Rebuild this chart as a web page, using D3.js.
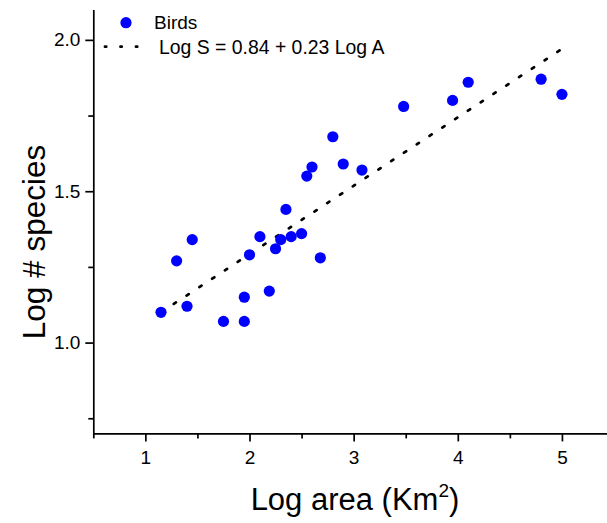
<!DOCTYPE html>
<html>
<head>
<meta charset="utf-8">
<script src="https://cdn.jsdelivr.net/npm/d3@7"></script>
<style>
  html, body { margin: 0; padding: 0; background: #fff; }
  svg { display: block; font-family: "Liberation Sans", Arial, sans-serif; }
</style>
</head>
<body>
<svg id="chart" width="607" height="523"></svg>
<script>
// ---- data ----
const logArea = [1.15, 1.30, 1.45, 1.40, 1.75, 1.95, 1.95, 2.19, 2.00, 2.10, 2.30, 2.25, 2.40,
                 2.50, 2.68, 2.35, 2.55, 2.60, 2.80, 2.90, 3.08, 3.48, 3.95, 4.10, 4.80, 5.00];
const logSpecies = [1.10, 1.27, 1.34, 1.12, 1.07, 1.07, 1.15, 1.17, 1.29, 1.35, 1.34, 1.31, 1.35,
                    1.36, 1.28, 1.44, 1.55, 1.58, 1.68, 1.59, 1.57, 1.78, 1.80, 1.86, 1.87, 1.82];
const fitX = [1.15, 5.0];
const fitY = [1.10, 1.97];
const xTicks = [1, 2, 3, 4, 5];
const xMinorTicks = [0.5, 1.5, 2.5, 3.5, 4.5];
const yTicks = [1.0, 1.5, 2.0];
const yMinorTicks = [0.75, 1.25, 1.75];
const seriesName = "Birds";
const fitLabel = "Log S = 0.84 + 0.23 Log A";

// ---- layout ----
const svg = d3.select("#chart");
const x = d3.scaleLinear().domain([0.5, 5.5]).range([93.3, 614.0]);
const y = d3.scaleLinear().domain([0.7, 2.1]).range([433.4, 9.6]);
const font = 19;

// axes
const xAxis = d3.axisBottom(x).tickValues(xTicks).tickFormat(d3.format("d")).tickSize(8).tickSizeOuter(0).tickPadding(9);
const gx = svg.append("g").attr("transform", `translate(0,${y(0.7)})`).call(xAxis);
gx.selectAll("text").style("font-size", font + "px").attr("fill", "#000");
const xMinor = d3.axisBottom(x).tickValues(xMinorTicks).tickFormat("").tickSize(5).tickSizeOuter(0);
const gxm = svg.append("g").attr("transform", `translate(0,${y(0.7)})`).call(xMinor);
gxm.select(".domain").remove();

const yAxis = d3.axisLeft(y).tickValues(yTicks).tickFormat(d3.format(".1f")).tickSize(8).tickSizeOuter(0).tickPadding(5);
const gy = svg.append("g").attr("transform", `translate(${x(0.5)},0)`).call(yAxis);
gy.selectAll("text").style("font-size", font + "px").attr("fill", "#000");
const yMinor = d3.axisLeft(y).tickValues(yMinorTicks).tickFormat("").tickSize(5).tickSizeOuter(0);
const gym = svg.append("g").attr("transform", `translate(${x(0.5)},0)`).call(yMinor);
gym.select(".domain").remove();

svg.selectAll(".domain, .tick line").attr("stroke", "#000").attr("stroke-width", 1.7);
svg.selectAll("g").attr("font-family", null);

// fit line (dotted)
svg.append("line")
  .attr("x1", x(fitX[0])).attr("y1", y(fitY[0]))
  .attr("x2", x(fitX[1])).attr("y2", y(fitY[1]))
  .attr("stroke", "#000").attr("stroke-width", 2.7)
  .attr("stroke-linecap", "round")
  .attr("stroke-dasharray", "2.6,12.7");

// points
svg.append("g").selectAll("circle")
  .data(logArea.map((d, i) => [d, logSpecies[i]]))
  .join("circle")
  .attr("cx", d => x(d[0])).attr("cy", d => y(d[1]))
  .attr("r", 5.6).attr("fill", "#0000ff");

// legend
const lg = svg.append("g");
lg.append("circle").attr("cx", 126).attr("cy", 22.7).attr("r", 5.6).attr("fill", "#0000ff");
lg.append("text").attr("x", 154).attr("y", 29).style("font-size", font + "px").text(seriesName);
lg.append("line").attr("x1", 105).attr("y1", 46.7).attr("x2", 139).attr("y2", 46.7)
  .attr("stroke", "#000").attr("stroke-width", 2.8).attr("stroke-linecap", "round")
  .attr("stroke-dasharray", "1.2,14.3");
lg.append("text").attr("x", 159).attr("y", 53.5).style("font-size", "19.4px").text(fitLabel);

// axis titles
const xt = svg.append("text").attr("x", 355).attr("y", 510).attr("text-anchor", "middle")
  .style("font-size", "31px");
xt.append("tspan").text("Log area (Km");
xt.append("tspan").attr("dy", -13).style("font-size", "19px").text("2");
xt.append("tspan").attr("dy", 13).text(")");

svg.append("text")
  .attr("transform", "translate(45,242) rotate(-90)")
  .attr("text-anchor", "middle")
  .style("font-size", "31.5px")
  .text("Log # species");
</script>
</body>
</html>
